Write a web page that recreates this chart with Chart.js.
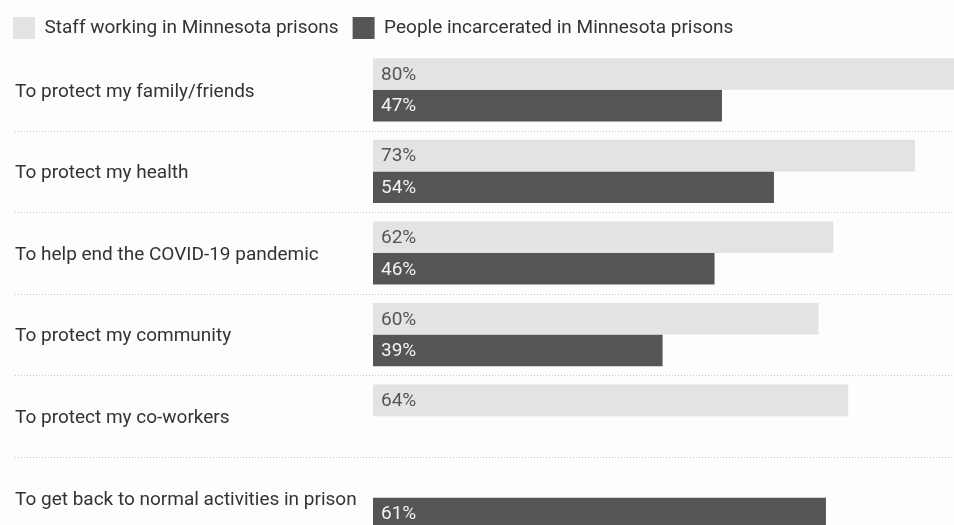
<!DOCTYPE html>
<html>
<head>
<meta charset="utf-8">
<script src="https://cdn.jsdelivr.net/npm/chart.js@4.4.1/dist/chart.umd.min.js"></script>
<style>
  html, body { margin: 0; padding: 0; background: #fdfdfd; overflow: hidden; }
  #wrap { width: 954px; height: 525px; overflow: hidden; position: relative; }
  #wrap canvas { position: absolute; left: 0; top: 0; }
</style>
</head>
<body>
<div id="wrap"><canvas id="chart" width="967" height="553"></canvas></div>
<script>
// reasons for getting vaccinated, % of respondents
const reasons = [
  'To protect my family/friends',
  'To protect my health',
  'To help end the COVID-19 pandemic',
  'To protect my community',
  'To protect my co-workers',
  'To get back to normal activities in prison'
]
const staffValues = [80, 73, 62, 60, 64, null]
const incarceratedValues = [47, 54, 46, 39, null, 61]
const seriesNames = ['Staff working in Minnesota prisons', 'People incarcerated in Minnesota prisons']

const LIGHT = '#e3e3e3'
const DARK = '#555555'
const FONT = 'Roboto'

// move the y labels in from the canvas edge (legend keeps its own spot)
const labelShift = {
  id: 'labelShift',
  afterLayout(chart) {
    chart.scales.y.left += 16
  }
}

// dotted separators between the rows
const rowLines = {
  id: 'rowLines',
  beforeDatasetsDraw(chart) {
    const ctx = chart.ctx
    const y = chart.scales.y
    ctx.save()
    ctx.strokeStyle = '#c8c8c8'
    ctx.lineWidth = 1
    ctx.setLineDash([1, 2])
    for (let i = 1; i < reasons.length; i++) {
      const py = Math.round((y.getPixelForValue(i - 1) + y.getPixelForValue(i)) / 2) + 0.5
      ctx.beginPath()
      ctx.moveTo(15, py)
      ctx.lineTo(chart.width, py)
      ctx.stroke()
    }
    ctx.restore()
  }
}

// value labels inside the bars
const barLabels = {
  id: 'barLabels',
  afterDatasetsDraw(chart) {
    const ctx = chart.ctx
    ctx.save()
    ctx.font = '19px ' + FONT
    ctx.textBaseline = 'middle'
    ctx.textAlign = 'left'
    chart.data.datasets.forEach((ds, di) => {
      const meta = chart.getDatasetMeta(di)
      meta.data.forEach((bar, i) => {
        const v = ds.data[i]
        if (v === null || v === undefined) return
        ctx.fillStyle = di === 0 ? '#555555' : '#f2f2f2'
        ctx.fillText(v + '%', bar.base + 8, bar.y + 1)
      })
    })
    ctx.restore()
  }
}

new Chart(document.getElementById('chart'), {
  type: 'bar',
  data: {
    labels: reasons,
    datasets: [
      { label: seriesNames[0], data: staffValues, backgroundColor: LIGHT, borderWidth: 0 },
      { label: seriesNames[1], data: incarceratedValues, backgroundColor: DARK, borderWidth: 0 }
    ]
  },
  options: {
    indexAxis: 'y',
    responsive: false,
    animation: false,
    events: [],
    categoryPercentage: 0.775,
    barPercentage: 1,
    layout: { padding: { left: -1, right: 0, top: 3, bottom: 2 } },
    scales: {
      x: { display: false, min: 0, max: 80 },
      y: {
        grid: { display: false },
        border: { display: false },
        ticks: {
          crossAlign: 'far',
          labelOffset: 2,
          color: '#333333',
          font: { family: FONT, size: 19 }
        },
        afterFit(scale) { scale.width = 374 }
      }
    },
    plugins: {
      legend: {
        position: 'top',
        align: 'start',
        labels: {
          boxWidth: 22,
          boxHeight: 22,
          padding: 14,
          color: '#333333',
          font: { family: FONT, size: 19 }
        }
      },
      tooltip: { enabled: false }
    }
  },
  plugins: [labelShift, rowLines, barLabels]
})
</script>
</body>
</html>
